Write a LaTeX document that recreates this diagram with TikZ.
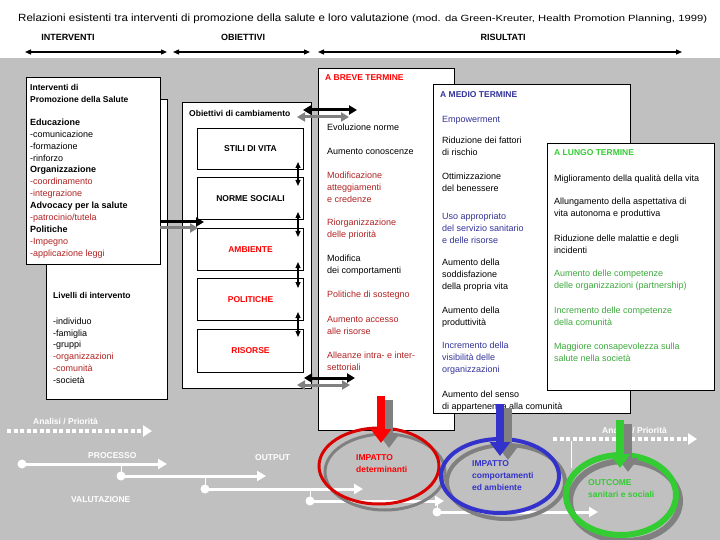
\documentclass[tikz,border=0pt]{standalone}
\usepackage{graphicx}
\usepackage{fontspec}
\setmainfont{Liberation Sans}
\usetikzlibrary{arrows.meta}
\definecolor{bg}{HTML}{C0C0C0}
\definecolor{dred}{HTML}{B22222}
\definecolor{rred}{HTML}{FF0000}
\definecolor{mblue}{HTML}{333399}
\definecolor{eblue}{HTML}{3333CC}
\definecolor{lgreen}{HTML}{3DAA3D}
\definecolor{egreen}{HTML}{33CC33}
\definecolor{shad}{HTML}{808080}
\begin{document}
\begin{tikzpicture}[x=1pt,y=-1pt,
  box/.style={draw=black, fill=white, line width=1pt, inner sep=0pt, anchor=north west},
  ibox/.style={box, minimum width=106, font=\bfseries\fontsize{8.5}{10}\selectfont},
  t/.style={anchor=west, inner sep=0pt, align=left, font=\fontsize{9}{12}\selectfont},
  tb/.style={anchor=west, inner sep=0pt, align=left, font=\bfseries\fontsize{8.5}{12}\selectfont},
  wt/.style={anchor=west, inner sep=0pt, text=white, font=\bfseries\fontsize{8.5}{10}\selectfont},
  hd/.style={inner sep=0pt, font=\bfseries\fontsize{9}{10}\selectfont},
  dbl/.style={line width=1.2pt, {Triangle[width=5pt,length=6pt]}-{Triangle[width=5pt,length=6pt]}},
  thk/.style={line width=3pt, -{Triangle[width=9pt,length=8pt]}},
  thkd/.style={line width=3pt, {Triangle[width=9pt,length=8pt]}-{Triangle[width=9pt,length=8pt]}},
  fat/.style={line width=8pt, -{Triangle[width=20pt,length=14pt]}},
  wline/.style={white, line width=3pt, -{Triangle[width=10pt,length=9pt]}},
  wtick/.style={white, line width=0.8pt},
  wdot/.style={white, line width=4pt, dash pattern=on 4pt off 2.5pt, -{Triangle[width=11pt,length=9pt]}},
  ell/.style={line width=3pt}
]
\useasboundingbox (0,0) rectangle (720,540);
\fill[white] (0,0) rectangle (720,540);
\fill[bg] (0,58) rectangle (720,540);

% title and headers
\node[anchor=base west, inner sep=0pt, font=\fontsize{10.5}{12}\selectfont] (title) at (18,21.5)
  {\scalebox{1.1}[1]{Relazioni esistenti tra interventi di promozione della salute e loro valutazione} \scalebox{1.25}[1]{\fontsize{9}{10}\selectfont (mod. da Green-Kreuter, Health Promotion Planning, 1999)}};
\node[hd] (hint) at (68,37) {INTERVENTI};
\node[hd] (hobi) at (243,37) {OBIETTIVI};
\node[hd] (hris) at (503,37) {RISULTATI};
\coordinate (a1l) at (25,52); \coordinate (a1r) at (167,52);
\coordinate (a2l) at (173,52); \coordinate (a2r) at (310,52);
\coordinate (a3l) at (318,52); \coordinate (a3r) at (682,52);
\draw[dbl] (a1l) -- (a1r);
\draw[dbl] (a2l) -- (a2r);
\draw[dbl] (a3l) -- (a3r);

% left boxes
\node[box, minimum width=121, minimum height=300] (intback) at (46,99) {};
\node[box, minimum width=134, minimum height=187] (intbox) at (26,77) {};
\node[tb] (inttit) at (30,93.5) {Interventi di\\Promozione della Salute};
\node[t, font=\fontsize{9}{11.9}\selectfont] (intlist) at (30,188.5) {\textbf{Educazione}\\-comunicazione\\-formazione\\-rinforzo\\\textbf{Organizzazione}\\\textcolor{dred}{-coordinamento}\\\textcolor{dred}{-integrazione}\\\textbf{Advocacy per la salute}\\\textcolor{dred}{-patrocinio/tutela}\\\textbf{Politiche}\\\textcolor{dred}{-Impegno}\\\textcolor{dred}{-applicazione leggi}};
\node[tb] (livtit) at (53,295) {Livelli di intervento};
\node[t, font=\fontsize{9}{11.8}\selectfont] (livlist) at (53,350.5) {-individuo\\-famiglia\\-gruppi\\\textcolor{dred}{-organizzazioni}\\\textcolor{dred}{-comunità}\\-società};

% objectives
\node[box, minimum width=129, minimum height=286] (obibox) at (182,102) {};
\node[tb] (obitit) at (189,113) {Obiettivi di cambiamento};
\node[ibox, minimum height=41] (stili) at (197,128) {STILI DI VITA};
\node[ibox, minimum height=42] (norme) at (197,177) {NORME SOCIALI};
\node[ibox, minimum height=42, text=rred] (amb) at (197,228) {AMBIENTE};
\node[ibox, minimum height=42, text=rred] (pol) at (197,278) {POLITICHE};
\node[ibox, minimum height=43, text=rred] (ris) at (197,329) {RISORSE};
\coordinate (d1a) at (298,162); \coordinate (d1b) at (298,186);
\coordinate (d2a) at (298,212); \coordinate (d2b) at (298,237);
\coordinate (d3a) at (298,262); \coordinate (d3b) at (298,288);
\coordinate (d4a) at (298,312); \coordinate (d4b) at (298,337);
\draw[dbl] (d1a) -- (d1b);
\draw[dbl] (d2a) -- (d2b);
\draw[dbl] (d3a) -- (d3b);
\draw[dbl] (d4a) -- (d4b);

% arrows interventions -> objectives
\coordinate (ia1) at (160,228); \coordinate (ia2) at (198,228);
\coordinate (ib1) at (160,222); \coordinate (ib2) at (204,222);
\draw[thk, shad] (ia1) -- (ia2);
\draw[thk, black] (ib1) -- (ib2);

% short term
\node[box, minimum width=136, minimum height=362] (breve) at (318,68) {};
\node[tb, text=rred] (brevetit) at (325,78) {A BREVE TERMINE};
\node[t] (b1) at (327,127) {Evoluzione norme};
\node[t] (b2) at (327,151) {Aumento conoscenze};
\node[t, text=dred] (b3) at (327,187) {Modificazione\\atteggiamenti\\e credenze};
\node[t, text=dred] (b4) at (327,229) {Riorganizzazione\\delle priorità};
\node[t] (b5) at (327,265) {Modifica\\dei comportamenti};
\node[t, text=dred] (b6) at (327,295) {Politiche di sostegno};
\node[t, text=dred] (b7) at (327,325) {Aumento accesso\\alle risorse};
\node[t, text=dred] (b8) at (327,361) {Alleanze intra- e inter-\\settoriali};

% arrows objectives <-> short term
\coordinate (ta1) at (297,117); \coordinate (ta2) at (349,117);
\coordinate (tb1) at (303,110); \coordinate (tb2) at (357,110);
\draw[thkd, shad] (ta1) -- (ta2);
\draw[thkd, black] (tb1) -- (tb2);
\coordinate (ua1) at (297,385); \coordinate (ua2) at (350,385);
\coordinate (ub1) at (304,378); \coordinate (ub2) at (355,378);
\draw[thkd, shad] (ua1) -- (ua2);
\draw[thkd, black] (ub1) -- (ub2);

% medium term
\node[box, minimum width=197, minimum height=329] (medio) at (433,84) {};
\node[tb, text=mblue] (mediotit) at (440,95) {A MEDIO TERMINE};
\node[t, text=mblue] (m1) at (442,120) {Empowerment};
\node[t] (m2) at (442,146) {Riduzione dei fattori\\di rischio};
\node[t] (m3) at (442,182.5) {Ottimizzazione\\del benessere};
\node[t, text=mblue] (m4) at (442,228.5) {Uso appropriato\\del servizio sanitario\\e delle risorse};
\node[t] (m5) at (442,275) {Aumento della\\soddisfazione\\della propria vita};
\node[t] (m6) at (442,317.5) {Aumento della\\produttività};
\node[t, text=mblue] (m7) at (442,358.5) {Incremento della\\visibilità delle\\organizzazioni};
\node[t] (m8) at (442,401) {Aumento del senso\\di appartenenza alla comunità};

% long term
\node[box, minimum width=167, minimum height=247] (lungo) at (547,143) {};
\node[tb, text=egreen] (lungotit) at (554,153) {A LUNGO TERMINE};
\node[t] (l1) at (554,179) {Miglioramento della qualità della vita};
\node[t] (l2) at (554,208) {Allungamento della aspettativa di\\vita autonoma e produttiva};
\node[t] (l3) at (554,244) {Riduzione delle malattie e degli\\incidenti};
\node[t, text=lgreen] (l4) at (554,280) {Aumento delle competenze\\delle organizzazioni (partnership)};
\node[t, text=lgreen] (l5) at (554,316) {Incremento delle competenze\\della comunità};
\node[t, text=lgreen] (l6) at (554,352) {Maggiore consapevolezza sulla\\salute nella società};

% evaluation process
\node[wt] (anl) at (33,421) {Analisi / Priorità};
\coordinate (dl1) at (7,431); \coordinate (dl2) at (152,431);
\draw[wdot] (dl1) -- (dl2);
\node[wt] (anr) at (602,430) {Analisi / Priorità};
\coordinate (dr1) at (553,439); \coordinate (dr2) at (697,439);
\draw[wdot] (dr1) -- (dr2);
\coordinate (vt1) at (571,441); \coordinate (vt2) at (571,468);
\draw[white, line width=0.8pt] (vt1) -- (vt2);

\node[wt] (proc) at (88,456) {PROCESSO};
\node[wt] (outp) at (255,458) {OUTPUT};
\node[wt] (valu) at (71,500) {VALUTAZIONE};

\coordinate (p1) at (22,464); \coordinate (p1e) at (167,464);
\coordinate (p2t) at (121,464); \coordinate (p2) at (121,476); \coordinate (p2e) at (266,476);
\coordinate (p3t) at (205,476); \coordinate (p3) at (205,489); \coordinate (p3e) at (363,489);
\coordinate (p4t) at (310,489); \coordinate (p4) at (310,501); \coordinate (p4e) at (444,501);
\coordinate (p5t) at (437,501); \coordinate (p5) at (437,512); \coordinate (p5e) at (598,512);
\draw[wline] (p1) -- (p1e);
\draw[wtick] (p2t) -- (p2); \draw[wline] (p2) -- (p2e);
\draw[wtick] (p3t) -- (p3); \draw[wline] (p3) -- (p3e);
\draw[wtick] (p4t) -- (p4); \draw[wline] (p4) -- (p4e);
\draw[wtick] (p5t) -- (p5); \draw[wline] (p5) -- (p5e);
\foreach \p in {p1,p2,p3,p4,p5} \fill[white] (\p) circle (4.5pt);

% impact ellipses
\draw[ell, shad] (385,472) ellipse [x radius=60pt, y radius=38pt];
\draw[ell, rred!85!black] (379,466) ellipse [x radius=60pt, y radius=38pt];
\draw[ell, shad, line width=4pt] (506,482) ellipse [x radius=59pt, y radius=37pt];
\draw[ell, eblue, line width=4pt] (500,476) ellipse [x radius=59pt, y radius=37pt];
\draw[ell, shad, line width=6pt] (625,501) ellipse [x radius=55pt, y radius=40pt];
\draw[ell, egreen, line width=6pt] (621,495) ellipse [x radius=55pt, y radius=40pt];

\node[tb, text=rred, align=left] (imp1) at (356,464) {IMPATTO\\determinanti};
\node[tb, text=eblue, align=left] (imp2) at (472,476) {IMPATTO\\comportamenti\\ed ambiente};
\node[tb, text=egreen, align=left] (outc) at (588,489) {OUTCOME\\sanitari e sociali};

% vertical fat arrows
\coordinate (ra1) at (389,400); \coordinate (ra2) at (389,448);
\coordinate (rb1) at (381,396); \coordinate (rb2) at (381,443);
\draw[fat, shad] (ra1) -- (ra2);
\draw[fat, rred] (rb1) -- (rb2);
\coordinate (ba1) at (508,408); \coordinate (ba2) at (508,460);
\coordinate (bb1) at (500,404); \coordinate (bb2) at (500,456);
\draw[fat, shad] (ba1) -- (ba2);
\draw[fat, eblue] (bb1) -- (bb2);
\coordinate (ga1) at (628,424); \coordinate (ga2) at (628,472);
\coordinate (gb1) at (620,420); \coordinate (gb2) at (620,468);
\draw[fat, shad] (ga1) -- (ga2);
\draw[fat, egreen] (gb1) -- (gb2);
\end{tikzpicture}
\end{document}
